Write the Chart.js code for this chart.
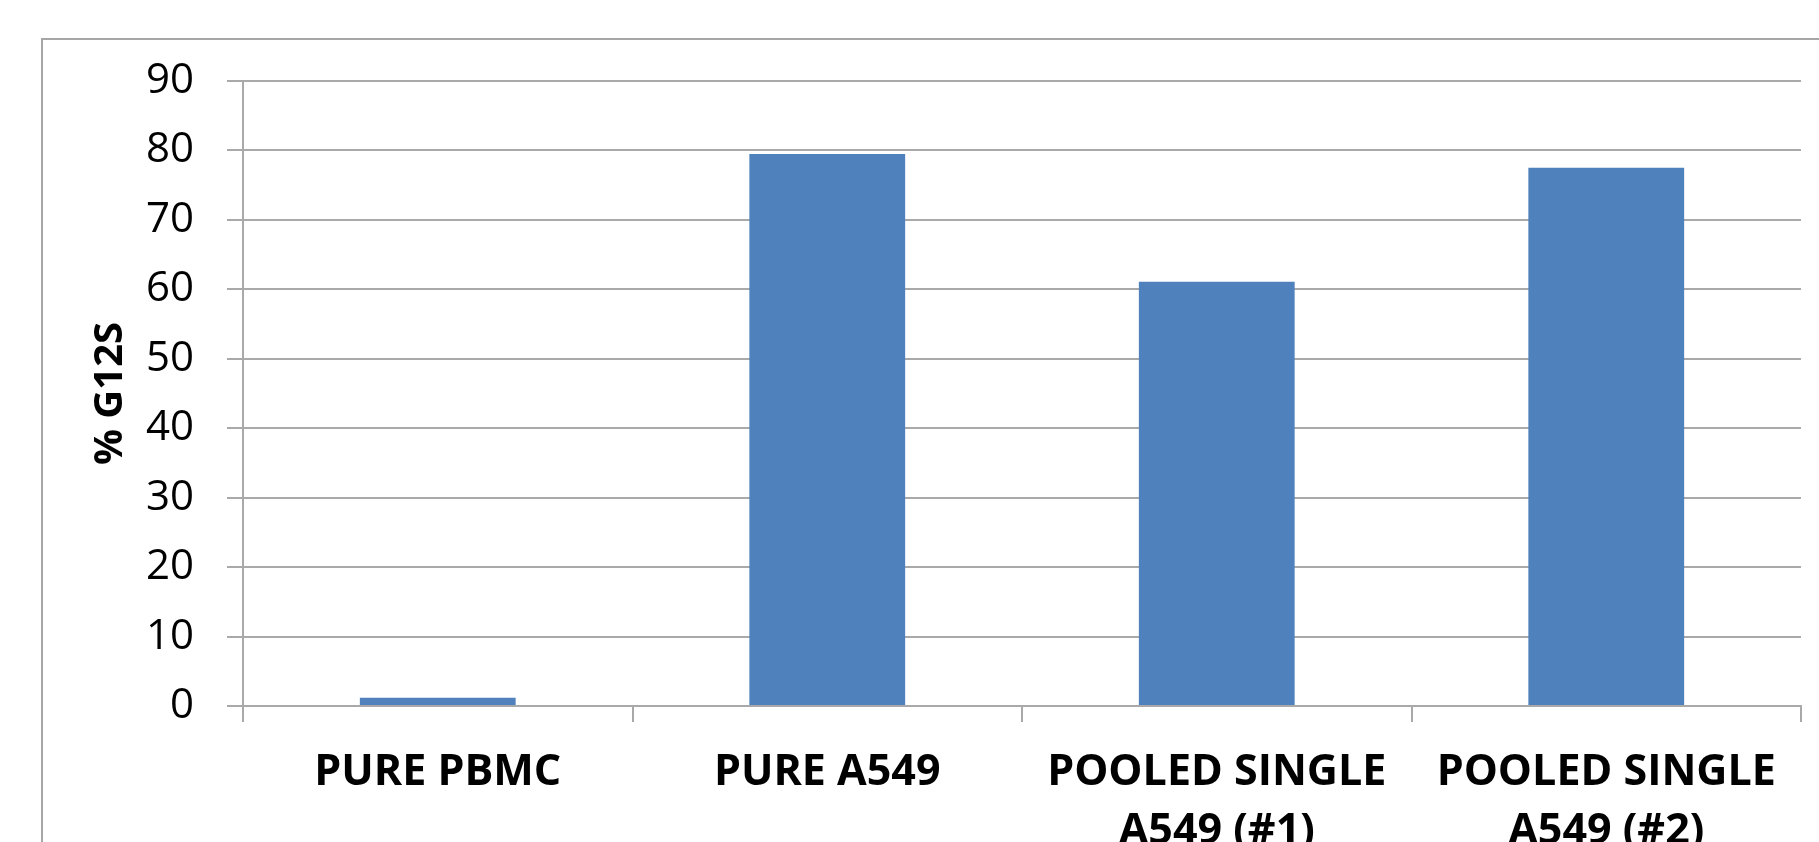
<!DOCTYPE html>
<html>
<head>
<meta charset="utf-8">
<script src="https://cdn.jsdelivr.net/npm/chart.js@4/dist/chart.umd.min.js"></script>
<style>
  html, body { margin: 0; padding: 0; background: #ffffff; overflow: hidden; }
  #wrap { position: relative; width: 1819px; height: 842px; }
  #frame { position: absolute; left: 41px; top: 38px; width: 2000px; height: 1000px;
           border-left: 2px solid #a6a6a6; border-top: 2px solid #a6a6a6; }
  #c { position: absolute; left: 0; top: 0; }
</style>
</head>
<body>
<div id="wrap">
  <div id="frame"></div>
  <canvas id="c" width="1819" height="842"></canvas>
</div>
<script>
const categories = [
  ["PURE PBMC"],
  ["PURE A549"],
  ["POOLED SINGLE", "A549 (#1)"],
  ["POOLED SINGLE", "A549 (#2)"]
];
const g12sValues = [1.2, 79.5, 61.1, 77.5];
const yTicks = [0, 10, 20, 30, 40, 50, 60, 70, 80, 90];
const yTitle = "% G12S";

const gridColor = "#a9a9a9";
const fontFamily = "'Open Sans', 'DejaVu Sans', sans-serif";

new Chart(document.getElementById("c"), {
  type: "bar",
  data: {
    labels: categories,
    datasets: [{
      data: g12sValues,
      backgroundColor: "#4f81bd",
      borderWidth: 0,
      barPercentage: 0.4,
      categoryPercentage: 1.0
    }]
  },
  options: {
    responsive: false,
    animation: false,
    devicePixelRatio: 1,
    layout: { padding: { left: 0, right: 18, top: 81, bottom: 0 } },
    plugins: { legend: { display: false }, tooltip: { enabled: false } },
    scales: {
      x: {
        offset: true,
        grid: {
          offset: true,
          drawOnChartArea: false,
          drawTicks: true,
          tickLength: 16,
          color: gridColor,
          lineWidth: 2
        },
        border: { display: true, color: gridColor, width: 2 },
        ticks: {
          color: "#000000",
          font: { family: fontFamily, size: 43, weight: "bold", lineHeight: 1.356 },
          padding: 22,
          maxRotation: 0,
          minRotation: 0,
          autoSkip: false
        },
        afterFit: (s) => { s.height = 136; }
      },
      y: {
        min: 0,
        max: 90,
        afterBuildTicks: (s) => { s.ticks = yTicks.map(v => ({ value: v })); },
        grid: {
          color: gridColor,
          lineWidth: 2,
          drawTicks: true,
          tickLength: 16
        },
        border: { display: true, color: gridColor, width: 2 },
        ticks: {
          color: "#000000",
          font: { family: fontFamily, size: 42 },
          padding: 33
        },
        title: {
          display: true,
          text: yTitle,
          color: "#000000",
          font: { family: fontFamily, size: 40, weight: "bold", lineHeight: 1.2 },
          padding: { top: 87, bottom: 0 }
        },
        afterFit: (s) => { s.width = 243; }
      }
    }
  }
});
</script>
</body>
</html>
